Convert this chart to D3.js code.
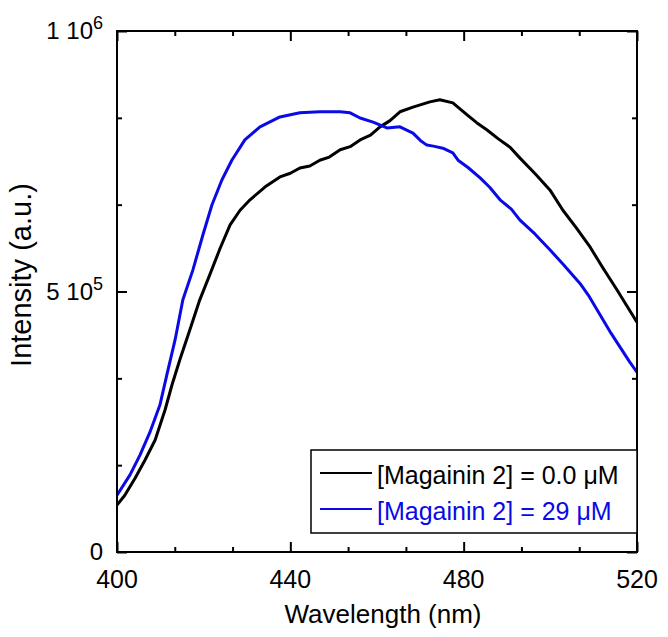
<!DOCTYPE html>
<html>
<head>
<meta charset="utf-8">
<script src="https://cdn.jsdelivr.net/npm/d3@7"></script>
<style>
  body { margin: 0; background: #fff; }
  text { font-family: "Liberation Sans", Arial, sans-serif; }
</style>
</head>
<body>
<script>
// spectrum without peptide
var wavelengthBlack = [400.0, 401.8, 404.2, 406.5, 408.8, 411.1, 412.7, 414.5, 416.8, 419.1,
  421.4, 423.8, 426.1, 428.4, 430.7, 434.2, 437.6, 440.0, 442.2, 444.5, 446.8, 449.0,
  451.5, 453.8, 456.1, 458.5, 460.7, 463.0, 465.3, 468.3, 472.2, 474.5, 477.5, 480.8,
  483.0, 485.4, 488.0, 490.7, 493.0, 496.5, 499.9, 502.9, 506.0, 509.2, 512.0, 515.4,
  518.0, 520.0];
var intensityBlack = [90000, 109000, 142000, 177000, 215000, 273000, 321000, 369000, 426000, 484000,
  532000, 583000, 628000, 656000, 676000, 701000, 720000, 727000, 737000, 741000, 752000, 758000,
  772000, 778000, 791000, 800000, 816000, 828000, 845000, 854000, 864000, 868000, 862000, 839000,
  824000, 810000, 793000, 777000, 756000, 726000, 695000, 656000, 622000, 585000, 547000, 503000,
  468000, 441000];

// spectrum with 29 uM magainin 2
var wavelengthBlue = [400.0, 403.0, 405.3, 407.6, 409.9, 411.5, 413.4, 415.2, 417.5, 419.8,
  421.9, 424.2, 426.5, 429.5, 433.0, 437.6, 442.2, 446.8, 451.5, 453.8, 456.1, 459.1,
  462.3, 465.3, 468.3, 470.0, 471.5, 473.0, 475.2, 477.5, 478.7, 481.0, 483.8, 486.0,
  488.4, 491.0, 493.0, 496.5, 499.9, 503.0, 506.8, 509.0, 511.5, 514.0, 516.5, 518.3,
  520.0];
var intensityBlue = [109000, 148000, 186000, 230000, 282000, 340000, 407000, 484000, 541000, 608000,
  666000, 714000, 752000, 791000, 816000, 835000, 843000, 845000, 845000, 843000, 833000, 825000,
  814000, 816000, 804000, 790000, 781000, 779000, 775000, 766000, 752000, 738000, 718000, 700000,
  676000, 658000, 637000, 610000, 580000, 552000, 516000, 490000, 455000, 420000, 388000, 365000,
  345000];

var xMajor = [400, 440, 480, 520];
var xMinor = [413.33, 426.67, 453.33, 466.67, 493.33, 506.67];
var yMajor = [0, 500000, 1000000];
var yMinor = [166667, 333333, 666667, 833333];
var yTickBase = ["0", "5 10", "1 10"];
var yTickExp = ["", "5", "6"];

var seriesNames = ["[Magainin 2] = 0.0 \u03bcM", "[Magainin 2] = 29 \u03bcM"];
var seriesColors = ["#000000", "#0a0ae6"];

var W = 668, H = 637;
var pLeft = 117, pRight = 637, pTop = 31, pBottom = 552;

var x = d3.scaleLinear().domain([400, 520]).range([pLeft, pRight]);
var y = d3.scaleLinear().domain([0, 1000000]).range([pBottom, pTop]);

var svg = d3.select("body").append("svg")
  .attr("width", W)
  .attr("height", H);

// ticks on all four sides, pointing in
function ticks(axis, tr, size, vals) {
  var g = svg.append("g")
    .attr("transform", tr)
    .call(axis.tickValues(vals).tickSize(-size).tickFormat(""));
  g.select(".domain").remove();
  g.selectAll("line").attr("stroke", "#000").attr("stroke-width", 2);
}
ticks(d3.axisBottom(x), "translate(0," + pBottom + ")", 10, xMajor);
ticks(d3.axisBottom(x), "translate(0," + pBottom + ")", 5, xMinor);
ticks(d3.axisTop(x), "translate(0," + pTop + ")", 10, xMajor);
ticks(d3.axisTop(x), "translate(0," + pTop + ")", 5, xMinor);
ticks(d3.axisLeft(y), "translate(" + pLeft + ",0)", 10, yMajor);
ticks(d3.axisLeft(y), "translate(" + pLeft + ",0)", 5, yMinor);
ticks(d3.axisRight(y), "translate(" + pRight + ",0)", 10, yMajor);
ticks(d3.axisRight(y), "translate(" + pRight + ",0)", 5, yMinor);

var line = d3.line()
  .x(function(d) { return x(d[0]); })
  .y(function(d) { return y(d[1]); });

svg.append("path")
  .datum(d3.zip(wavelengthBlack, intensityBlack))
  .attr("d", line)
  .attr("fill", "none")
  .attr("stroke", seriesColors[0])
  .attr("stroke-width", 3)
  .attr("stroke-linejoin", "round");

svg.append("path")
  .datum(d3.zip(wavelengthBlue, intensityBlue))
  .attr("d", line)
  .attr("fill", "none")
  .attr("stroke", seriesColors[1])
  .attr("stroke-width", 3)
  .attr("stroke-linejoin", "round");

// frame
svg.append("rect")
  .attr("x", pLeft).attr("y", pTop)
  .attr("width", pRight - pLeft).attr("height", pBottom - pTop)
  .attr("fill", "none")
  .attr("stroke", "#000")
  .attr("stroke-width", 2);

// x tick labels
svg.selectAll(".xlab")
  .data(xMajor)
  .enter()
  .append("text")
  .attr("x", function(d) { return x(d); })
  .attr("y", 588)
  .attr("text-anchor", "middle")
  .attr("font-size", 25)
  .text(function(d) { return d; });

// y tick labels with exponents
var yl = svg.selectAll(".ylab")
  .data(yMajor)
  .enter()
  .append("text")
  .attr("x", 103)
  .attr("y", function(d) { return y(d) + 8; })
  .attr("text-anchor", "end")
  .attr("font-size", 24);
yl.append("tspan").text(function(d, i) { return yTickBase[i]; });
yl.append("tspan")
  .attr("dy", -10)
  .attr("font-size", 18)
  .text(function(d, i) { return yTickExp[i]; });

svg.append("text")
  .attr("x", 383)
  .attr("y", 623)
  .attr("text-anchor", "middle")
  .attr("font-size", 26)
  .text("Wavelength (nm)");

svg.append("text")
  .attr("transform", "translate(31,275) rotate(-90)")
  .attr("text-anchor", "middle")
  .attr("font-size", 29)
  .text("Intensity (a.u.)");

// legend
svg.append("rect")
  .attr("x", 311).attr("y", 450)
  .attr("width", 326).attr("height", 83)
  .attr("fill", "#fff")
  .attr("stroke", "#000")
  .attr("stroke-width", 1.5);

var leg = svg.selectAll(".leg")
  .data(seriesNames)
  .enter()
  .append("g")
  .attr("transform", function(d, i) { return "translate(0," + (473 + i * 36) + ")"; });
leg.append("line")
  .attr("x1", 320).attr("x2", 372)
  .attr("stroke", function(d, i) { return seriesColors[i]; })
  .attr("stroke-width", 2);
leg.append("text")
  .attr("x", 377)
  .attr("y", 11)
  .attr("font-size", 25)
  .attr("fill", function(d, i) { return seriesColors[i]; })
  .text(function(d) { return d; });
</script>
</body>
</html>
